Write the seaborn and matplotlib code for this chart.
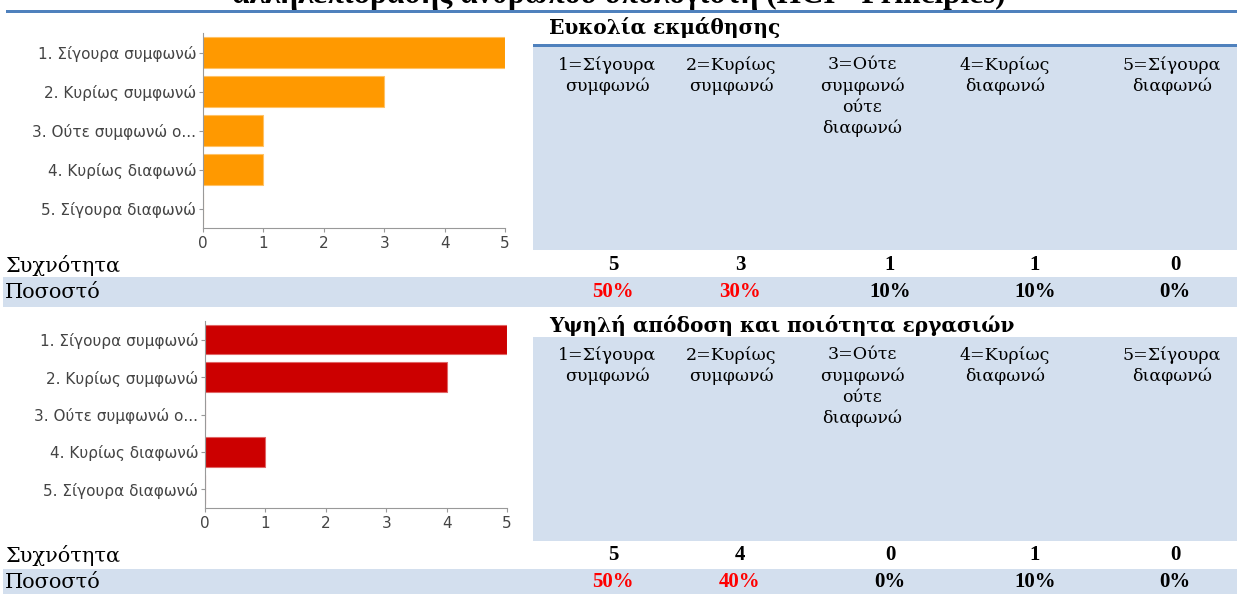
import matplotlib
matplotlib.use("Agg")
import matplotlib.pyplot as plt
import seaborn as sns
import pandas as pd
from matplotlib.patches import Rectangle

# ---- data ----
answer_labels = ["1. Σίγουρα συμφωνώ", "2. Κυρίως συμφωνώ", "3. Ούτε συμφωνώ ο...",
                 "4. Κυρίως διαφωνώ", "5. Σίγουρα διαφωνώ"]
column_headers = ["1=Σίγουρα\nσυμφωνώ", "2=Κυρίως\nσυμφωνώ", "3=Ούτε\nσυμφωνώ\nούτε\nδιαφωνώ",
                  "4=Κυρίως\nδιαφωνώ", "5=Σίγουρα\nδιαφωνώ"]
ease_counts = [5, 3, 1, 1, 0]
quality_counts = [5, 4, 0, 1, 0]
highlighted_columns = [0, 1]
xticks = [0, 1, 2, 3, 4, 5]

page_title = "αλληλεπίδρασης ανθρώπου υπολογιστή (HCI - Principles)"
section_titles = ["Ευκολία εκμάθησης", "Υψηλή απόδοση και ποιότητα εργασιών"]
row_labels = ["Συχνότητα", "Ποσοστό"]
bar_colors = ["#FF9900", "#CC0000"]
bar_edges = ["#FFC266", "#E06666"]

# ---- layout (pixels) ----
W, H = 1237, 594
BLUE = "#4F81BD"
LIGHT = "#D3DFEE"
SERIF = ["DejaVu Serif"]
NUM_SERIF = ["Liberation Serif", "DejaVu Serif"]
SANS = ["DejaVu Sans"]
header_x = [607, 731, 862, 1005, 1172]
value_x = [613, 740, 890, 1035, 1175]

sns.set_theme(style="white")
plt.rcParams["font.family"] = SANS

fig = plt.figure(figsize=(W / 100, H / 100), dpi=100)
bg = fig.add_axes([0, 0, 1, 1], zorder=0)
bg.set_xlim(0, W)
bg.set_ylim(H, 0)
bg.axis("off")

# page title (runs off the top edge) and its rule
bg.text(619, 2.5, page_title, ha="center", va="baseline", fontsize=22.5,
        fontweight="bold", family=NUM_SERIF, color="black")
bg.add_patch(Rectangle((6, 9.5), W - 6, 3, color=BLUE, lw=0))

sections = [
    dict(counts=ease_counts, title_y=28, rule=True, blue=(47, 250), freq_y=265,
         pct_band=(277, 307), pct_y=292, ax=(203, 505, 33, 228)),
    dict(counts=quality_counts, title_y=325, rule=False, blue=(337, 541), freq_y=555,
         pct_band=(569, 594), pct_y=582, ax=(205, 507, 321, 508)),
]

for i, s in enumerate(sections):
    counts = s["counts"]
    total = sum(counts)
    pcts = [round(c / total * 100) for c in counts]

    bg.text(549, s["title_y"], section_titles[i], ha="left", va="center", fontsize=14.5,
            fontweight="bold", family=SERIF, color="black")
    if s["rule"]:
        bg.add_patch(Rectangle((533, 44), W - 533, 3, color=BLUE, lw=0))
    y0, y1 = s["blue"]
    bg.add_patch(Rectangle((533, y0), W - 533, y1 - y0, color=LIGHT, lw=0))
    for hx, head in zip(header_x, column_headers):
        bg.text(hx, y0 + 9, head, ha="center", va="top", fontsize=12.5,
                family=SERIF, color="black", linespacing=1.3)

    # frequency row
    bg.text(5, s["freq_y"], row_labels[0], ha="left", va="center", fontsize=15,
            family=SERIF, color="black")
    for vx, c in zip(value_x, counts):
        bg.text(vx, s["freq_y"], str(c), ha="center", va="center", fontsize=15,
                fontweight="bold", family=NUM_SERIF, color="black")

    # percentage row
    p0, p1 = s["pct_band"]
    bg.add_patch(Rectangle((3, p0), W - 3, p1 - p0, color=LIGHT, lw=0))
    bg.text(5, s["pct_y"], row_labels[1], ha="left", va="center", fontsize=15,
            family=SERIF, color="black")
    for j, (vx, p) in enumerate(zip(value_x, pcts)):
        bg.text(vx, s["pct_y"], f"{p}%", ha="center", va="center", fontsize=15,
                fontweight="bold", family=NUM_SERIF,
                color="#FF0000" if j in highlighted_columns else "black")

    # horizontal bar chart
    xl, xr, yt, yb = s["ax"]
    ax = fig.add_axes([xl / W, 1 - yb / H, (xr - xl) / W, (yb - yt) / H], zorder=2)
    ax.set_facecolor("none")
    df = pd.DataFrame({"answer": answer_labels, "count": counts})
    sns.barplot(data=df, x="count", y="answer", orient="h", ax=ax,
                color=bar_colors[i], edgecolor=bar_edges[i], linewidth=0.8,
                width=0.79, saturation=1)
    ax.set_xlim(0, 5)
    ax.set_ylim(4.5, -0.5)
    ax.set_xticks(xticks)
    ax.set_xlabel("")
    ax.set_ylabel("")
    for side in ["top", "right"]:
        ax.spines[side].set_visible(False)
    for side in ["left", "bottom"]:
        ax.spines[side].set_color("#999999")
        ax.spines[side].set_linewidth(0.8)
    ax.tick_params(axis="both", which="both", length=3, width=0.8, color="#999999",
                   labelsize=11, labelcolor="#444444", pad=2)
    ax.tick_params(axis="x", pad=3)
    ax.tick_params(left=True, bottom=True)

fig.savefig("out.png", dpi=100)
